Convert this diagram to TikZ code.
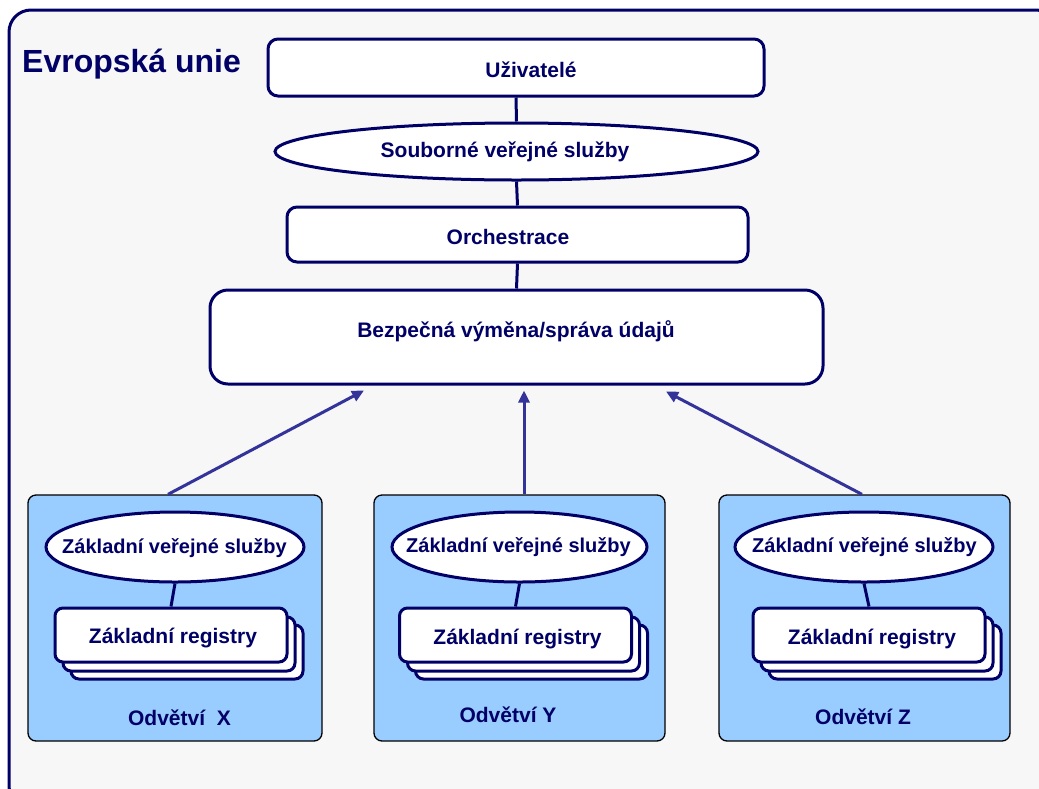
\documentclass[tikz,border=0pt]{standalone}
\usepackage{fontspec}
\setmainfont{Liberation Sans}
\usetikzlibrary{shapes.geometric,arrows.meta}
\definecolor{navy}{HTML}{000066}
\definecolor{arrowblue}{HTML}{333399}
\definecolor{panelblue}{HTML}{99CCFF}
\definecolor{framefill}{HTML}{F7F7F7}

\begin{document}
\begin{tikzpicture}[x=1pt,y=-1pt,
  lbl/.style={font=\fontsize{21}{24}\selectfont\bfseries, text=navy, inner sep=0pt},
  lblsm/.style={font=\fontsize{20}{23}\selectfont\bfseries, text=navy, inner sep=0pt},
  title/.style={font=\fontsize{32}{36}\selectfont\bfseries, text=navy, inner sep=0pt},
  layerbox/.style={draw=navy, line width=3pt, fill=white, rounded corners=10pt, inner sep=0pt},
  layerell/.style={ellipse, draw=navy, line width=3pt, fill=white, inner sep=0pt},
  panel/.style={draw=black, line width=1.3pt, fill=panelblue, rounded corners=8pt, inner sep=0pt},
  regbox/.style={draw=navy, line width=3pt, fill=white, rounded corners=8pt, inner sep=0pt,
    minimum width=232pt, minimum height=54pt},
  link/.style={draw=navy, line width=3pt},
  feed/.style={draw=arrowblue, line width=3pt, -{Triangle[length=12pt,width=11pt]}}
]
\useasboundingbox (0,0) rectangle (1039,788);
\fill[white] (0,0) rectangle (1039,788);
\clip (0,0) rectangle (1039,788);

% outer frame
\draw[navy, line width=3pt, fill=framefill, rounded corners=22pt] (9,10) rectangle (1058,808);
\node[title, anchor=base west] (eu) at (22,72) {Evropská unie};

% central stack
\node[layerbox, minimum width=496pt, minimum height=57pt] (users) at (516,67.5) {};
\node[lbl] (usersT) at (531,70) {Uživatelé};
\node[layerell, minimum width=483pt, minimum height=57pt] (compo) at (516.5,151.5) {};
\node[lbl] (compoT) at (505,152) {Souborné veřejné služby};
\node[layerbox, minimum width=461pt, minimum height=55pt] (orch) at (517.5,234.5) {};
\node[lbl] (orchT) at (508,237) {Orchestrace};
\node[layerbox, rounded corners=18pt, minimum width=613pt, minimum height=94pt] (sec) at (516.5,337) {};
\node[lbl] (secT) at (516,331) {Bezpečná výměna/správa údajů};

\draw[link] (users.south) -- (compo.north);
\draw[link] (compo.south) -- (orch.north);
\draw[link] (orch.south) -- (sec.north);

% sector panels
\node[panel, minimum width=294pt, minimum height=246pt] (pX) at (175,618) {};
\node[panel, minimum width=291pt, minimum height=246pt] (pY) at (519.5,618) {};
\node[panel, minimum width=291pt, minimum height=246pt] (pZ) at (864.5,618) {};

% basic public services
\node[layerell, minimum width=258pt, minimum height=70pt] (eX) at (175,547) {};
\node[lblsm] (eXT) at (174.5,548) {Základní veřejné služby};
\node[layerell, minimum width=255pt, minimum height=70pt] (eY) at (519.5,547) {};
\node[lblsm] (eYT) at (518.5,547) {Základní veřejné služby};
\node[layerell, minimum width=258pt, minimum height=70pt] (eZ) at (864,547) {};
\node[lblsm] (eZT) at (864.5,547) {Základní veřejné služby};

% stacked base registers
\node[regbox] (rX3) at (187,652) {};
\node[regbox] (rX2) at (179,644) {};
\node[regbox] (rX) at (171,635) {};
\node[lbl] (rXT) at (173,638) {Základní registry};
\node[regbox] (rY3) at (531.5,652) {};
\node[regbox] (rY2) at (523.5,644) {};
\node[regbox] (rY) at (515.5,635) {};
\node[lbl] (rYT) at (517.5,639) {Základní registry};
\node[regbox] (rZ3) at (885,652) {};
\node[regbox] (rZ2) at (877,644) {};
\node[regbox] (rZ) at (869,635) {};
\node[lbl] (rZT) at (872,639) {Základní registry};

\draw[link] (eX.south) -- (rX.north);
\draw[link] (eY.south) -- (rY.north);
\draw[link] (eZ.south) -- (rZ.north);

\node[lbl] (oX) at (179.5,718) {Odvětví\ \ X};
\node[lbl] (oY) at (508,715) {Odvětví Y};
\node[lbl] (oZ) at (863,717) {Odvětví Z};

% data flows into the exchange layer
\draw[feed] ([xshift=-7pt]pX.north) -- ([xshift=-152.5pt,yshift=-5pt]sec.south);
\draw[feed] ([xshift=4.5pt]pY.north) -- ([xshift=7.5pt,yshift=-5pt]sec.south);
\draw[feed] ([xshift=-2.5pt]pZ.north) -- ([xshift=149.5pt,yshift=-6pt]sec.south);
\end{tikzpicture}
\end{document}
